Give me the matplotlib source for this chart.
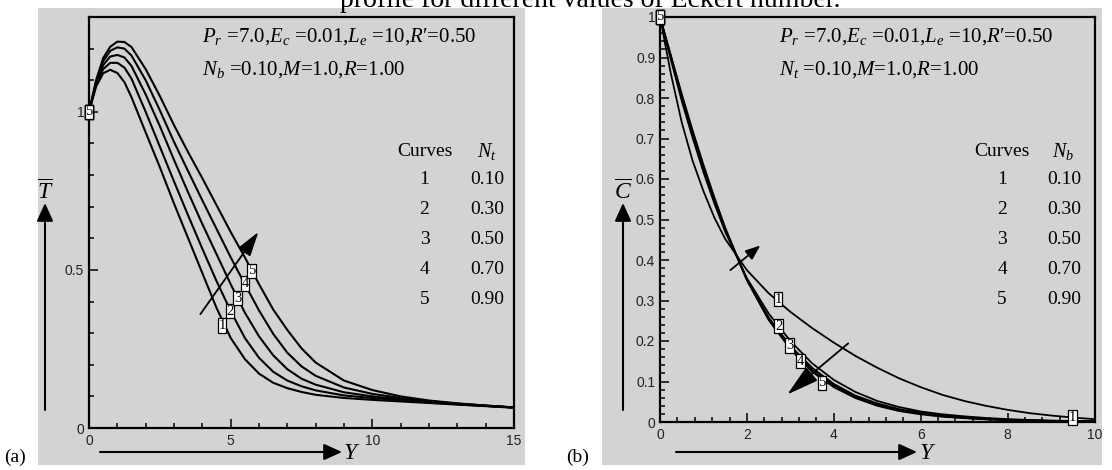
import matplotlib
matplotlib.use("Agg")
import matplotlib.pyplot as plt
from matplotlib.patches import Rectangle, FancyArrowPatch
from matplotlib.ticker import MultipleLocator, FixedLocator, FixedFormatter

plt.rcParams['mathtext.fontset'] = 'custom'
plt.rcParams['mathtext.rm'] = 'Liberation Serif'
plt.rcParams['mathtext.it'] = 'Liberation Serif:italic'
plt.rcParams['mathtext.bf'] = 'Liberation Serif:bold'

# ---------------- data ----------------
Y_T = [0, 0.25, 0.5, 0.75, 1.0, 1.25, 1.5, 2.0, 2.5, 3.0, 3.5, 4.0, 4.5, 5.0,
       5.5, 6.0, 6.5, 7.0, 7.5, 8.0, 9.0, 10, 11, 12, 13, 14, 15]
T1 = [1.0, 1.080, 1.122, 1.133, 1.123, 1.094, 1.046, 0.935, 0.825, 0.71, 0.60, 0.49, 0.38, 0.285,
      0.218, 0.172, 0.143, 0.126, 0.114, 0.105, 0.095, 0.089, 0.084, 0.079, 0.074, 0.069, 0.064]
T2 = [1.0, 1.085, 1.135, 1.155, 1.155, 1.14, 1.105, 1.0, 0.89, 0.78, 0.672, 0.567, 0.465, 0.37,
      0.285, 0.222, 0.178, 0.15, 0.132, 0.119, 0.103, 0.095, 0.088, 0.081, 0.075, 0.07, 0.065]
T3 = [1.0, 1.09, 1.148, 1.175, 1.18, 1.172, 1.145, 1.055, 0.955, 0.848, 0.745, 0.645, 0.55, 0.455,
      0.365, 0.29, 0.23, 0.186, 0.156, 0.137, 0.113, 0.1, 0.091, 0.083, 0.076, 0.07, 0.065]
T4 = [1.0, 1.095, 1.16, 1.193, 1.204, 1.2, 1.178, 1.1, 1.005, 0.905, 0.812, 0.72, 0.63, 0.54,
      0.455, 0.372, 0.298, 0.238, 0.195, 0.165, 0.128, 0.108, 0.095, 0.085, 0.077, 0.071, 0.065]
T5 = [1.0, 1.10, 1.17, 1.206, 1.222, 1.221, 1.205, 1.135, 1.05, 0.958, 0.872, 0.79, 0.705, 0.62,
      0.54, 0.455, 0.375, 0.31, 0.252, 0.207, 0.15, 0.12, 0.1, 0.087, 0.078, 0.071, 0.065]
T_curves = [T1, T2, T3, T4, T5]

Y_C = [0, 0.25, 0.5, 0.75, 1.0, 1.25, 1.5, 2.0, 2.5, 3.0, 3.5, 4.0, 4.5, 5.0,
       5.5, 6.0, 6.5, 7.0, 7.5, 8.0, 8.5, 9.0, 9.5, 10]
C1 = [1.0, 0.86, 0.74, 0.645, 0.57, 0.505, 0.452, 0.375, 0.318, 0.272, 0.232, 0.196, 0.163, 0.134,
      0.108, 0.086, 0.067, 0.052, 0.04, 0.03, 0.022, 0.016, 0.011, 0.007]
C2 = [1.0, 0.895, 0.793, 0.702, 0.617, 0.54, 0.47, 0.355, 0.268, 0.2, 0.145, 0.104, 0.074, 0.052,
      0.037, 0.026, 0.019, 0.014, 0.01, 0.007, 0.005, 0.0035, 0.0025, 0.0018]
C3 = [1.0, 0.9, 0.8, 0.71, 0.625, 0.546, 0.474, 0.352, 0.258, 0.188, 0.134, 0.094, 0.065, 0.046,
      0.032, 0.023, 0.016, 0.0115, 0.008, 0.0058, 0.0042, 0.003, 0.0021, 0.0015]
C4 = [1.0, 0.903, 0.806, 0.715, 0.63, 0.55, 0.477, 0.351, 0.255, 0.183, 0.129, 0.09, 0.062, 0.043,
      0.03, 0.021, 0.0145, 0.01, 0.007, 0.005, 0.0036, 0.0025, 0.0018, 0.0012]
C5 = [1.0, 0.905, 0.81, 0.72, 0.635, 0.555, 0.48, 0.35, 0.252, 0.18, 0.124, 0.086, 0.059, 0.04,
      0.027, 0.019, 0.013, 0.0095, 0.0065, 0.0046, 0.0033, 0.0023, 0.0016, 0.0011]
C_curves = [C1, C2, C3, C4, C5]

curve_ids = ['1', '2', '3', '4', '5']
param_values = ['0.10', '0.30', '0.50', '0.70', '0.90']

# curve label positions (points on curves)
T_label_pts = [(4.70, 0.324), (4.98, 0.370), (5.25, 0.410), (5.51, 0.457), (5.74, 0.497)]
C_label_pts = [(2.72, 0.303), (2.73, 0.237), (2.98, 0.189), (3.23, 0.150), (3.73, 0.097)]
C_extra_label = ('1', (9.49, 0.011))

title_text = 'profile for different values of Eckert number.'
ann_T = ["$P_r$ =7.0,$E_c$ =0.01,$L_e$ =10,$R′$=0.50", "$N_b$ =0.10,$M$=1.0,$R$=1.00"]
ann_C = ["$P_r$ =7.0,$E_c$ =0.01,$L_e$ =10,$R′$=0.50", "$N_t$ =0.10,$M$=1.0,$R$=1.00"]

# ---------------- figure ----------------
W, H = 1112, 470
fig = plt.figure(figsize=(W / 100, H / 100), dpi=100)
fig.patch.set_facecolor('white')

def fx(px):
    return px / W

def fy(py):
    return 1 - py / H

GRAY = '#d3d3d3'
fig.patches.append(Rectangle((fx(38), fy(465)), (525 - 38) / W, (465 - 8) / H,
                             transform=fig.transFigure, fc=GRAY, ec='none', zorder=-5))
fig.patches.append(Rectangle((fx(602), fy(465)), (1102 - 602) / W, (465 - 8) / H,
                             transform=fig.transFigure, fc=GRAY, ec='none', zorder=-5))

axA = fig.add_axes([fx(89), fy(428), (514 - 89) / W, (428 - 17) / H])
axB = fig.add_axes([fx(660), fy(422), (1094.5 - 660) / W, (422 - 17) / H])

SERIF = 'Liberation Serif'
SANS = 'Liberation Sans'

# Panel (a)
for T in T_curves:
    axA.plot(Y_T, T, color='black', lw=1.5, solid_capstyle='butt', clip_on=False)
axA.set_xlim(0, 15)
axA.set_ylim(0, 1.3)
axA.xaxis.set_major_locator(FixedLocator([0, 5, 10, 15]))
axA.xaxis.set_major_formatter(FixedFormatter(['0', '5', '10', '15']))
axA.xaxis.set_minor_locator(MultipleLocator(1))
axA.yaxis.set_major_locator(FixedLocator([0, 0.5, 1.0]))
axA.yaxis.set_major_formatter(FixedFormatter(['0', '0.5', '1']))
axA.yaxis.set_minor_locator(MultipleLocator(0.1))

# Panel (b)
for C in C_curves:
    axB.plot(Y_C, C, color='black', lw=1.3, solid_capstyle='butt', clip_on=False)
axB.set_xlim(0, 10)
axB.set_ylim(0, 1.0)
axB.xaxis.set_major_locator(MultipleLocator(2))
axB.xaxis.set_minor_locator(MultipleLocator(0.4))
axB.yaxis.set_major_locator(FixedLocator([0, 0.1, 0.2, 0.3, 0.4, 0.5, 0.6, 0.7, 0.8, 0.9, 1.0]))
axB.yaxis.set_major_formatter(FixedFormatter(['0', '0.1', '0.2', '0.3', '0.4', '0.5',
                                              '0.6', '0.7', '0.8', '0.9', '1']))
axB.yaxis.set_minor_locator(MultipleLocator(0.02))

for ax in (axA, axB):
    ax.set_facecolor('none')
    ax.set_zorder(2)
    for s in ax.spines.values():
        s.set_linewidth(1.6)
    ax.tick_params(which='both', direction='in', top=False, right=False,
                   width=1.1, labelsize=10, labelcolor='#222222')
    ax.tick_params(which='major', length=6.5)
    ax.tick_params(which='minor', length=3.6)
    ax.tick_params(axis='y', pad=3.5)
    ax.tick_params(axis='x', pad=4.5)
    for lab in ax.get_xticklabels() + ax.get_yticklabels():
        lab.set_fontfamily(SANS)

# curve label boxes
box = dict(boxstyle='square,pad=0.04', fc='white', ec='black', lw=0.9)

def put_label(ax, txt, x, y):
    ax.text(x, y, txt, ha='center', va='center', fontsize=10.5, family=SERIF,
            bbox=box, zorder=6, clip_on=False)

for cid in curve_ids:
    put_label(axA, cid, Y_T[0], T_curves[0][0])
for cid, (x, y) in zip(curve_ids, T_label_pts):
    put_label(axA, cid, x, y)
for cid in curve_ids:
    put_label(axB, cid, Y_C[0], C_curves[0][0])
for cid, (x, y) in zip(curve_ids, C_label_pts):
    put_label(axB, cid, x, y)
put_label(axB, C_extra_label[0], *C_extra_label[1])

# direction arrows inside panels
def arrow(ax, start, tip, hl, hw, lw=1.3):
    ax.annotate('', xy=tip, xytext=start, xycoords='data', textcoords='data',
                arrowprops=dict(arrowstyle=f'-|>,head_length={hl},head_width={hw}',
                                lw=lw, color='black', fc='black',
                                shrinkA=0, shrinkB=0, mutation_scale=10),
                zorder=5)

arrow(axA, (3.93, 0.36), (5.98, 0.62), 1.5, 0.45)
arrow(axB, (1.62, 0.375), (2.31, 0.436), 0.9, 0.35)
arrow(axB, (4.33, 0.194), (2.93, 0.068), 2.0, 0.55)

# parameter annotations
for (x0, lines) in ((202, ann_T), (779, ann_C)):
    fig.text(fx(x0), fy(37), lines[0], family=SERIF, fontsize=15, ha='left', va='center')
    fig.text(fx(x0), fy(70), lines[1], family=SERIF, fontsize=15, ha='left', va='center')

# legend tables
def table(xc_num, x_val, x_sym, sym):
    fig.text(fx(xc_num), fy(152), 'Curves', family=SERIF, fontsize=14, ha='center', va='center')
    fig.text(fx(x_sym), fy(152), sym, fontsize=14.5, ha='left', va='center')
    rows = [180, 210, 240, 269, 299]
    for cid, val, r in zip(curve_ids, param_values, rows):
        fig.text(fx(xc_num), fy(r), cid, family=SERIF, fontsize=14, ha='center', va='center')
        fig.text(fx(x_val), fy(r), val, family=SERIF, fontsize=14, ha='left', va='center')

table(424.5, 470, 477, r'$N_t$')
table(1002, 1047, 1052, r'$N_b$')

# axis-name arrows outside axes (in the gray panels)
def fig_arrow(x0, y0, x1, y1):
    fig.add_artist(FancyArrowPatch(
        (fx(x0), fy(y0)), (fx(x1), fy(y1)), transform=fig.transFigure,
        arrowstyle='-|>,head_length=1.1,head_width=0.5', mutation_scale=10,
        lw=1.5, color='black', shrinkA=0, shrinkB=0))

fig_arrow(45, 410, 45, 203)
fig_arrow(623, 410, 623, 203)
fig_arrow(100, 452, 342, 452)
fig_arrow(676, 452, 917, 452)
fig.text(fx(45), fy(192), r'$\overline{T}$', fontsize=17, ha='center', va='center')
fig.text(fx(623), fy(192), r'$\overline{C}$', fontsize=17, ha='center', va='center')
fig.text(fx(343), fy(452), r'$Y$', fontsize=17, ha='left', va='center')
fig.text(fx(919), fy(452), r'$Y$', fontsize=17, ha='left', va='center')

# panel tags and cut-off title
fig.text(fx(4), fy(457), '(a)', family=SERIF, fontsize=14, ha='left', va='center')
fig.text(fx(566), fy(457), '(b)', family=SERIF, fontsize=14, ha='left', va='center')
fig.text(fx(590), fy(7), title_text, family=SERIF, fontsize=20, ha='center', va='baseline')

fig.savefig('out.png', dpi=100)
